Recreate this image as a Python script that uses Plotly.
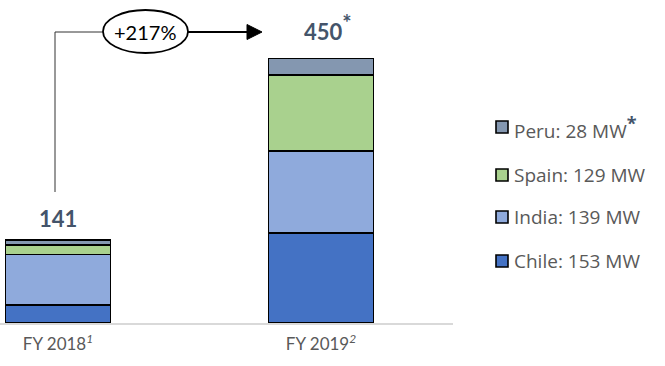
import plotly.graph_objects as go

years = ["FY 2018", "FY 2019"]
tick_labels = ["FY 2018<sup><i>1</i></sup>", "FY 2019<sup><i>2</i></sup>"]
series_names = ["Chile", "India", "Spain", "Peru"]
chile = [31, 153]
india = [85, 139]
spain = [16, 129]
peru = [9, 28]
totals = [141, 450]
total_labels = ["141", "450<sup><span style='font-size:22px'>*</span></sup>"]
legend_labels = ["Peru: 28 MW<sup><b><span style='color:#44546A;font-size:18px'>*</span></b></sup>",
                 "Spain: 129 MW", "India: 139 MW", "Chile: 153 MW"]
growth_label = "+217%"
colors = {"Chile": "#4472C4", "India": "#8FAADC", "Spain": "#A9D18E", "Peru": "#8497B0"}

FONT = "Lato, Open Sans, sans-serif"
LFONT = "Open Sans, Lato, sans-serif"
W, H = 665, 366
L, T, B = 0, 0, 43
PW = 453
PH = H - T - B
x0, x1 = -0.2205, -0.2205 + PW / 263.0
ymax = 450 * PH / 265.0

fig = go.Figure()
for name, vals in zip(series_names, [chile, india, spain, peru]):
    fig.add_trace(go.Bar(
        x=years, y=vals, name=name, width=0.4,
        marker=dict(color=colors[name], line=dict(color="black", width=1.6)),
        showlegend=False, hoverinfo="skip"))

# totals
for xi, (yv, lab) in enumerate(zip(totals, total_labels)):
    fig.add_annotation(x=years[xi], y=yv, text="<b>" + lab + "</b>", showarrow=False,
                       xanchor="center", yanchor="bottom",
                       yshift=(11 if xi == 1 else 6), xshift=(7 if xi == 1 else 0),
                       font=dict(family=FONT, size=22, color="#44546A"))

# pixel -> paper coordinates (paper spans plot area)
def px(x):
    return (x - L) / PW
def py(y):
    return 1 - (y - T) / PH

fig.add_shape(type="line", xref="paper", yref="paper", x0=px(55), x1=px(55),
              y0=py(192), y1=py(32), line=dict(color="#333333", width=1))
fig.add_shape(type="line", xref="paper", yref="paper", x0=px(55), x1=px(104),
              y0=py(32), y1=py(32), line=dict(color="#333333", width=1))
fig.add_shape(type="circle", xref="paper", yref="paper", x0=px(103), x1=px(188),
              y0=py(53), y1=py(10), line=dict(color="black", width=1.8), fillcolor="white")
fig.add_shape(type="line", xref="paper", yref="paper", x0=px(188), x1=px(250),
              y0=py(32), y1=py(32), line=dict(color="black", width=1.8))
fig.add_shape(type="path", xref="paper", yref="paper",
              path=f"M {px(247)} {py(24.5)} L {px(262)} {py(32)} L {px(247)} {py(39.5)} Z",
              fillcolor="black", line=dict(color="black", width=1))
fig.add_annotation(xref="paper", yref="paper", x=px(145), y=py(32), text=growth_label,
                   xanchor="center", yanchor="middle",
                   showarrow=False, font=dict(family=FONT, size=20, color="black"))

# legend
leg_y = [127, 175, 217, 261]
leg_cols = [colors["Peru"], colors["Spain"], colors["India"], colors["Chile"]]
for yc, lab, col in zip(leg_y, legend_labels, leg_cols):
    fig.add_shape(type="rect", xref="paper", yref="paper", x0=px(496), x1=px(508),
                  y0=py(yc + 6), y1=py(yc - 6), fillcolor=col, line=dict(color="black", width=1.6))
    fig.add_annotation(xref="paper", yref="paper", x=px(512), y=py(yc), text=lab,
                       xanchor="left", yanchor="middle", showarrow=False,
                       font=dict(family=LFONT, size=19, color="#595959"))

fig.update_layout(
    width=W, height=H, barmode="stack",
    margin=dict(l=L, r=W - L - PW, t=T, b=B),
    plot_bgcolor="white", paper_bgcolor="white",
    xaxis=dict(range=[x0, x1], tickvals=years, ticktext=tick_labels,
               showline=True, linecolor="#D9D9D9", linewidth=1.5, ticks="",
               ticklabelstandoff=5,
               tickfont=dict(family=FONT, size=17, color="#595959"), showgrid=False,
               fixedrange=True),
    yaxis=dict(range=[0, ymax], visible=False, showgrid=False, fixedrange=True),
    bargap=0.6,
)

fig.write_html("out.html")
